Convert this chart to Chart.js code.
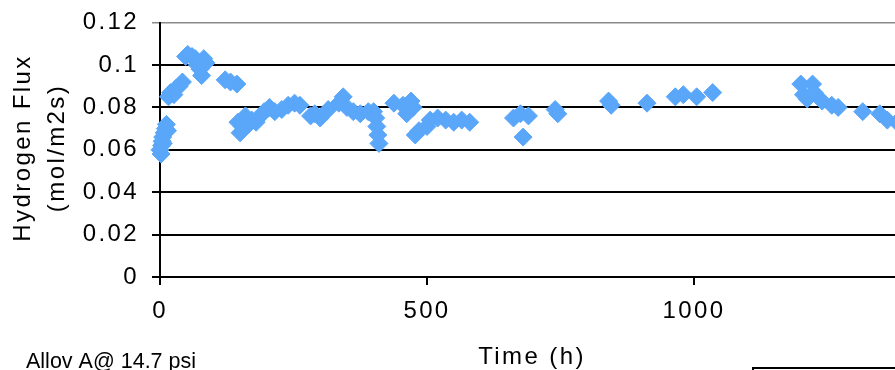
<!DOCTYPE html>
<html lang="en">
<head>
  <meta charset="UTF-8">
  <title>Hydrogen Flux</title>
  <script src="https://cdn.jsdelivr.net/npm/chart.js"></script>
  <style>
    html, body { margin: 0; padding: 0; background: #fff; overflow: hidden; }
    canvas { display: block; }
  </style>
</head>
<body>
  <canvas id="fluxChart" width="1000" height="370"></canvas>

  <script>
    // time in hours and measured hydrogen flux (mol/m2s)
    const timeH = [
      0, 2, 3, 4, 5, 6, 8, 10, 12, 14,
      16, 20, 26, 30, 36, 42,
      48, 52, 60, 66, 70, 75, 78, 82, 86,
      122, 132, 144,
      146, 150, 154, 160, 166, 172, 180, 188, 195, 205, 215, 228, 240, 252, 262,
      282, 290, 300, 315, 335, 343, 350, 362, 375, 390,
      400, 404, 406, 408, 410,
      438, 455, 462, 470, 474, 478, 485, 500, 506, 520, 535, 550, 565, 580,
      662, 675, 680, 690, 740, 745,
      840, 845, 912, 965, 980, 1005, 1035,
      1200, 1205, 1212, 1222, 1225, 1240, 1258, 1270, 1316, 1348, 1362, 1380
    ];
    const fluxVals = [
      0.060, 0.058, 0.062, 0.064, 0.066, 0.063, 0.068, 0.070, 0.072, 0.069,
      0.085, 0.087, 0.086, 0.089, 0.090, 0.092,
      0.104, 0.105, 0.104, 0.103, 0.100, 0.098, 0.095, 0.103, 0.101,
      0.093, 0.092, 0.091,
      0.073, 0.068, 0.071, 0.076, 0.072, 0.074, 0.073, 0.076, 0.078, 0.080, 0.078, 0.079, 0.081, 0.082, 0.081,
      0.076, 0.077, 0.075, 0.079, 0.082, 0.085, 0.080, 0.078, 0.077, 0.078,
      0.078, 0.075, 0.071, 0.067, 0.063,
      0.082, 0.081, 0.077, 0.083, 0.080, 0.067, 0.069, 0.071, 0.074, 0.075, 0.074, 0.073, 0.074, 0.073,
      0.075, 0.077, 0.066, 0.076, 0.079, 0.077,
      0.083, 0.081, 0.082, 0.085, 0.086, 0.085, 0.087,
      0.091, 0.086, 0.084, 0.091, 0.087, 0.083, 0.081, 0.080, 0.078, 0.077, 0.074, 0.073
    ];
    const xTicks = [0, 500, 1000, 1500];
    const yTicks = [0, 0.02, 0.04, 0.06, 0.08, 0.1, 0.12];

    const yTitle = ['Hydrogen Flux', '(mol/m2s)'];
    const xTitle = 'Time (h)';
    const noteText = 'Allov A@ 14.7 psi';

    const points = timeH.map((t, i) => ({ x: t, y: fluxVals[i] }));
    const fontFamily = '"Liberation Sans", Arial, sans-serif';
    const plotTop = 20;

    // wide letter spacing like the original picture, plus the extra texts
    const textPlugin = {
      id: 'texts',
      beforeDraw(chart) {
        chart.ctx.letterSpacing = '2.4px';
      },
      afterDraw(chart) {
        const ctx = chart.ctx;
        const midY = 148;
        ctx.save();
        ctx.fillStyle = '#000';
        ctx.font = '24px ' + fontFamily;
        ctx.letterSpacing = '2.4px';
        ctx.textAlign = 'center';
        ctx.textBaseline = 'middle';

        ctx.save();
        ctx.translate(23, midY);
        ctx.rotate(-Math.PI / 2);
        ctx.fillText(yTitle[0], 0, 0);
        ctx.restore();

        ctx.save();
        ctx.translate(57, midY);
        ctx.rotate(-Math.PI / 2);
        ctx.fillText(yTitle[1], 0, 0);
        ctx.restore();

        ctx.textBaseline = 'alphabetic';
        ctx.fillText(xTitle, 532, 364);

        ctx.textAlign = 'left';
        ctx.letterSpacing = '0px';
        ctx.font = '21.5px ' + fontFamily;
        ctx.fillText(noteText, 26, 368);

        // legend box edge at the bottom right
        ctx.strokeStyle = '#000';
        ctx.lineWidth = 2;
        ctx.strokeRect(753, 368, 300, 30);
        ctx.restore();
      }
    };

    const fluxChart = new Chart(document.getElementById('fluxChart'), {
      type: 'scatter',
      data: {
        datasets: [{
          label: 'Hydrogen Flux',
          data: points,
          clip: false,
          pointStyle: 'rectRot',
          pointRadius: 9,
          pointBorderWidth: 1,
          backgroundColor: '#5aa7fa',
          borderColor: '#5aa7fa'
        }]
      },
      options: {
        responsive: false,
        animation: false,
        devicePixelRatio: 1,
        layout: {
          autoPadding: false,
          padding: { left: 0, right: 39, top: 10, bottom: 0 }
        },
        plugins: {
          legend: { display: false },
          tooltip: { enabled: false }
        },
        scales: {
          x: {
            type: 'linear',
            min: 0,
            max: 1500,
            afterBuildTicks: scale => { scale.ticks = xTicks.map(v => ({ value: v })); },
            afterFit: scale => { scale.height = 93; },
            grid: {
              drawOnChartArea: false,
              drawTicks: true,
              tickLength: 8,
              color: '#000',
              lineWidth: 2
            },
            border: { display: true, color: '#000', width: 2 },
            ticks: {
              color: '#000',
              padding: 12,
              maxRotation: 0,
              font: { family: fontFamily, size: 24 },
              callback: v => String(v)
            }
          },
          y: {
            type: 'linear',
            min: 0,
            max: 0.12,
            afterBuildTicks: scale => { scale.ticks = yTicks.map(v => ({ value: v })); },
            afterFit: scale => { scale.width = 160; },
            grid: {
              drawTicks: true,
              tickLength: 8,
              color: ctx => (ctx.tick && ctx.tick.value >= 0.12 ? '#8a8a8a' : '#000'),
              lineWidth: ctx => (ctx.tick && ctx.tick.value >= 0.12 ? 1.5 : 2)
            },
            border: { display: true, color: '#000', width: 2 },
            ticks: {
              color: '#000',
              padding: 13,
              font: { family: fontFamily, size: 24, lineHeight: 0.8 },
              callback: v => String(Number(v.toFixed(2)))
            }
          }
        }
      },
      plugins: [textPlugin]
    });

    // move the top padding until the 0.12 line sits where the original has it
    const topPixel = () => fluxChart.scales.y.getPixelForValue(yTicks[yTicks.length - 1]);
    let padA = fluxChart.options.layout.padding.top;
    let errA = topPixel() - plotTop;
    let padB = padA - errA;
    for (let i = 0; i < 8 && Math.abs(errA) > 0.3; i++) {
      fluxChart.options.layout.padding.top = padB;
      fluxChart.update();
      const errB = topPixel() - plotTop;
      if (Math.abs(errB) <= 0.3 || errB === errA) break;
      const next = padB - errB * (padB - padA) / (errB - errA);
      padA = padB; errA = errB; padB = next;
    }
  </script>
</body>
</html>
